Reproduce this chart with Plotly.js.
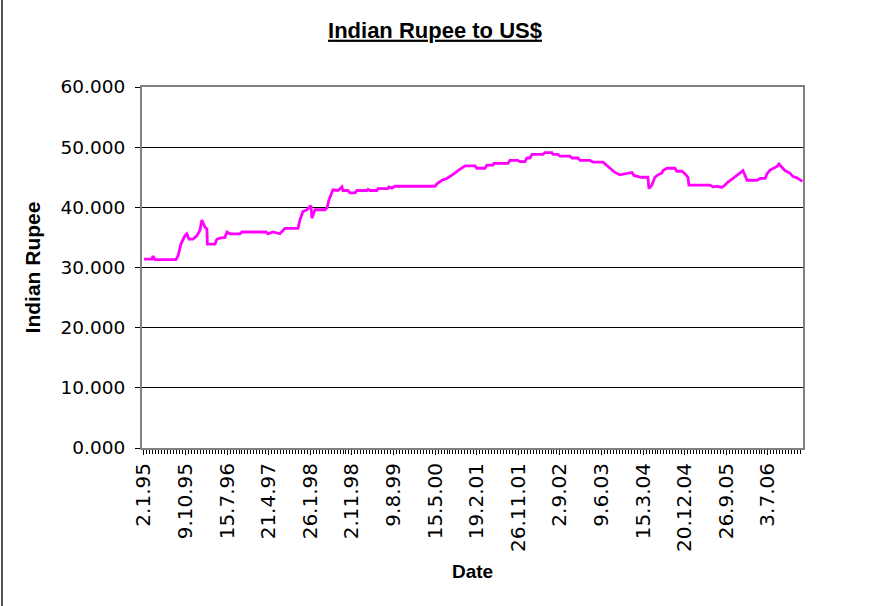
<!DOCTYPE html>
<html>
<head>
<meta charset="utf-8">
<script src="https://cdn.plot.ly/plotly-3.0.1.min.js"></script>
<style>
  html, body { margin: 0; padding: 0; background: #ffffff; }
  #chart { width: 870px; height: 606px; }
</style>
</head>
<body>
<div id="chart"></div>
<script>
// Exchange rate readings (Indian Rupee per US$)
const dates = [
  '1995-01-02','1995-02-25','1995-03-04','1995-03-17','1995-08-05','1995-08-19','1995-09-08','1995-10-05',
  '1995-10-18','1995-11-01','1995-11-28','1995-12-11','1995-12-25','1996-01-14','1996-01-27','1996-02-17',
  '1996-03-01','1996-03-04','1996-04-24','1996-05-07','1996-05-28','1996-06-30','1996-07-14','1996-08-03',
  '1996-10-09','1996-10-23','1997-04-02','1997-04-16','1997-05-19','1997-07-05','1997-08-08','1997-11-04',
  '1997-11-17','1997-12-07','1998-01-03','1998-01-30','1998-02-06','1998-02-26','1998-05-04','1998-05-18',
  '1998-05-31','1998-06-27','1998-07-31','1998-08-27','1998-09-02','1998-10-06','1998-10-20','1998-11-22',
  '1998-12-06','1999-02-11','1999-02-18','1999-03-03','1999-04-19','1999-04-26','1999-07-02','1999-07-09',
  '1999-07-29','1999-08-19','2000-05-14','2000-05-27','2000-06-30','2000-08-02','2000-08-23','2000-09-25',
  '2000-10-16','2000-11-11','2000-12-02','2001-02-07','2001-02-20','2001-04-15','2001-04-29','2001-06-08',
  '2001-06-15','2001-09-17','2001-10-01','2001-11-23','2001-12-07','2002-01-10','2002-01-23','2002-02-12',
  '2002-02-26','2002-05-11','2002-05-24','2002-07-10','2002-07-17','2002-08-20','2002-09-02','2002-11-08',
  '2002-11-22','2003-01-01','2003-01-15','2003-03-23','2003-04-12','2003-06-19','2003-07-15','2003-08-05',
  '2003-09-07','2003-10-11','2003-11-14','2003-12-31','2004-01-13','2004-02-09','2004-02-29','2004-04-16',
  '2004-04-23','2004-05-13','2004-06-02','2004-06-23','2004-07-20','2004-07-26','2004-08-22','2004-10-15',
  '2004-10-28','2004-12-01','2004-12-21','2005-01-11','2005-01-17','2005-06-08','2005-06-28','2005-07-25',
  '2005-08-27','2005-09-17','2005-10-07','2005-11-10','2005-12-07','2005-12-27','2006-01-16','2006-01-30',
  '2006-02-12','2006-04-21','2006-05-11','2006-06-14','2006-06-27','2006-07-17','2006-08-06','2006-09-02',
  '2006-09-15','2006-10-06','2006-10-26','2006-11-28','2006-12-19','2007-01-15','2007-02-04','2007-02-20'
];
const rupee = [
  31.4, 31.4, 31.9, 31.3, 31.3, 31.9, 33.9, 35.3,
  35.6, 34.7, 34.7, 35.0, 35.3, 36.2, 37.9, 36.7,
  36.4, 33.9, 33.9, 34.7, 34.9, 35.0, 35.9, 35.6,
  35.6, 35.9, 35.9, 35.6, 35.9, 35.6, 36.5, 36.5,
  37.9, 39.3, 39.6, 40.3, 38.2, 39.6, 39.6, 39.9,
  41.2, 42.9, 42.8, 43.4, 42.8, 42.8, 42.4, 42.4,
  42.8, 42.8, 43.0, 42.8, 42.8, 43.1, 43.1, 43.4,
  43.2, 43.5, 43.5, 43.9, 44.5, 44.8, 45.1, 45.7,
  46.1, 46.6, 46.9, 46.9, 46.5, 46.5, 47.0, 47.0,
  47.3, 47.3, 47.8, 47.8, 47.6, 47.6, 48.2, 48.2,
  48.8, 48.8, 49.1, 49.1, 48.8, 48.8, 48.5, 48.5,
  48.2, 48.2, 47.8, 47.8, 47.5, 47.5, 46.9, 46.4,
  45.8, 45.4, 45.6, 45.8, 45.3, 45.2, 45.0, 45.0,
  43.1, 43.7, 45.0, 45.4, 45.7, 46.1, 46.5, 46.5,
  46.0, 46.0, 45.6, 45.0, 43.7, 43.7, 43.4, 43.5,
  43.3, 43.7, 44.2, 44.8, 45.3, 45.8, 46.1, 45.3,
  44.5, 44.5, 44.8, 44.8, 45.6, 46.2, 46.4, 46.8,
  47.2, 46.6, 46.1, 45.7, 45.1, 44.9, 44.6, 44.3
];
// Category tick labels (every 280 days)
const tickDates = ['1995-01-02','1995-10-09','1996-07-15','1997-04-21','1998-01-26','1998-11-02',
  '1999-08-09','2000-05-15','2001-02-19','2001-11-26','2002-09-02','2003-06-09','2004-03-15',
  '2004-12-20','2005-09-26','2006-07-03'];
const tickLabels = ['2.1.95','9.10.95','15.7.96','21.4.97','26.1.98','2.11.98','9.8.99','15.5.00',
  '19.2.01','26.11.01','2.9.02','9.6.03','15.3.04','20.12.04','26.9.05','3.7.06'];
const yTicks = [0, 10, 20, 30, 40, 50, 60];

const trace = {
  type: 'scatter',
  mode: 'lines',
  x: dates,
  y: rupee,
  line: { color: '#FF00FF', width: 2.8 },
  hoverinfo: 'x+y'
};

const FONT = 'Liberation Sans, Arial, sans-serif';
const TICKFONT = 'DejaVu Sans, Liberation Sans, sans-serif';

const layout = {
  width: 870,
  height: 606,
  margin: { l: 142, r: 67, t: 87, b: 158, pad: 0 },
  paper_bgcolor: '#ffffff',
  plot_bgcolor: '#ffffff',
  showlegend: false,
  font: { family: FONT, color: '#000000' },
  title: {
    text: '<b><u>Indian Rupee to US$</u></b>',
    font: { family: FONT, size: 22, color: '#000000' },
    xref: 'container', x: 0.5, xanchor: 'center',
    yref: 'container', y: 1 - 30 / 606, yanchor: 'middle'
  },
  xaxis: {
    type: 'date',
    range: ['1994-12-20', '2007-02-24'],
    tickmode: 'array',
    tickvals: tickDates,
    ticktext: tickLabels,
    tickangle: -90,
    tickfont: { family: TICKFONT, size: 20, color: '#000000' },
    ticks: 'outside', ticklen: 5, tickcolor: '#000000', tickwidth: 1,
    minor: { ticks: 'outside', ticklen: 4, tickcolor: '#000000', tickwidth: 1,
             dtick: 20 * 86400000, tick0: '1995-01-02', showgrid: false },
    showgrid: false, zeroline: false,
    showline: true, mirror: true, linecolor: '#808080', linewidth: 2,
    automargin: false,
    title: { text: '<b>Date</b>', font: { family: FONT, size: 19, color: '#000000' }, standoff: 14 }
  },
  yaxis: {
    range: [0, 60],
    tickmode: 'array',
    tickvals: yTicks,
    tickformat: '.3f',
    tickfont: { family: TICKFONT, size: 18.5, color: '#000000' },
    ticks: 'outside', ticklen: 5, tickcolor: '#000000', tickwidth: 1,
    ticklabelstandoff: 6,
    showgrid: true, gridcolor: '#000000', gridwidth: 1,
    zeroline: false,
    showline: true, mirror: true, linecolor: '#808080', linewidth: 2,
    automargin: false,
    title: { text: '<b>Indian Rupee</b>', font: { family: FONT, size: 21, color: '#000000' }, standoff: 14 }
  },
  shapes: [
    { type: 'line', xref: 'paper', yref: 'paper',
      x0: -0.2118, x1: -0.2118, y0: -0.45, y1: 1.25,
      line: { color: '#555555', width: 2 } }
  ]
};

Plotly.newPlot('chart', [trace], layout, { displayModeBar: false, staticPlot: true });
</script>
</body>
</html>
